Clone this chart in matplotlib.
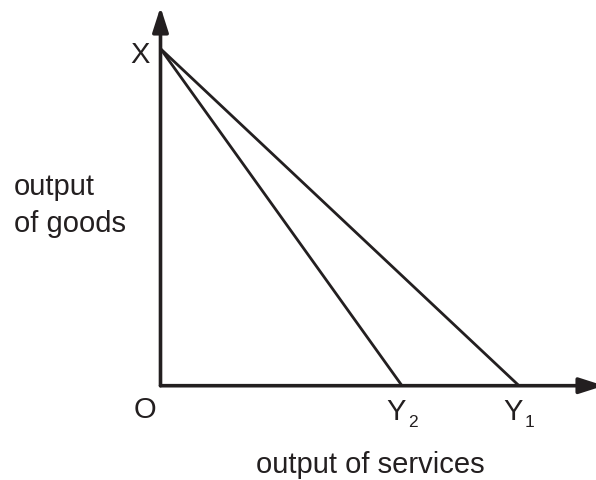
import matplotlib
matplotlib.use("Agg")
import matplotlib.pyplot as plt

plt.rcParams['font.family'] = ['Liberation Sans', 'DejaVu Sans']

# data (units: output quantities)
x_max_goods = 337.0            # X intercept on goods axis
y_intercepts = [358.5, 241.5]  # Y1, Y2 on services axis
y_subs = ["1", "2"]
ink = "#231f20"

fig = plt.figure(figsize=(5.96, 4.81), dpi=100)
ax = fig.add_axes([0, 0, 1, 1])
ax.set_xlim(-160.5, 435.5)
ax.set_ylim(-94.3, 386.7)
ax.axis("off")

# axes with arrows
for tip in [(0, 378.7), (443.5, 0)]:
    ax.annotate("", xy=tip, xytext=(0, 0),
                arrowprops=dict(arrowstyle="-|>,head_length=0.75,head_width=0.24",
                                mutation_scale=20, lw=2.6, color=ink,
                                shrinkA=0, shrinkB=0), annotation_clip=False)

# budget lines
for yi in y_intercepts:
    ax.plot([0, yi], [x_max_goods, 0], color=ink, lw=2.0, solid_capstyle="butt")

fs = 21
ax.text(-20.5, x_max_goods - 13.3, "X", fontsize=fs, ha="center", va="baseline", color=ink)
ax.text(-15.5, -31.0, "O", fontsize=fs, ha="center", va="baseline", color=ink)
for yi, sub in zip(y_intercepts, y_subs):
    ax.text(yi - 5.5, -33.3, "Y", fontsize=fs, ha="center", va="baseline", color=ink)
    ax.text(yi + 10.5, -40.3, sub, fontsize=12.5, ha="center", va="baseline", color=ink)

ax.text(-146.5, 191.7, "output", fontsize=fs, ha="left", va="baseline", color=ink)
ax.text(-146.5, 154.7, "of goods", fontsize=fs, ha="left", va="baseline", color=ink)
ax.text(209.5, -86.3, "output of services", fontsize=fs, ha="center", va="baseline", color=ink)

fig.savefig("out.png", dpi=100)
